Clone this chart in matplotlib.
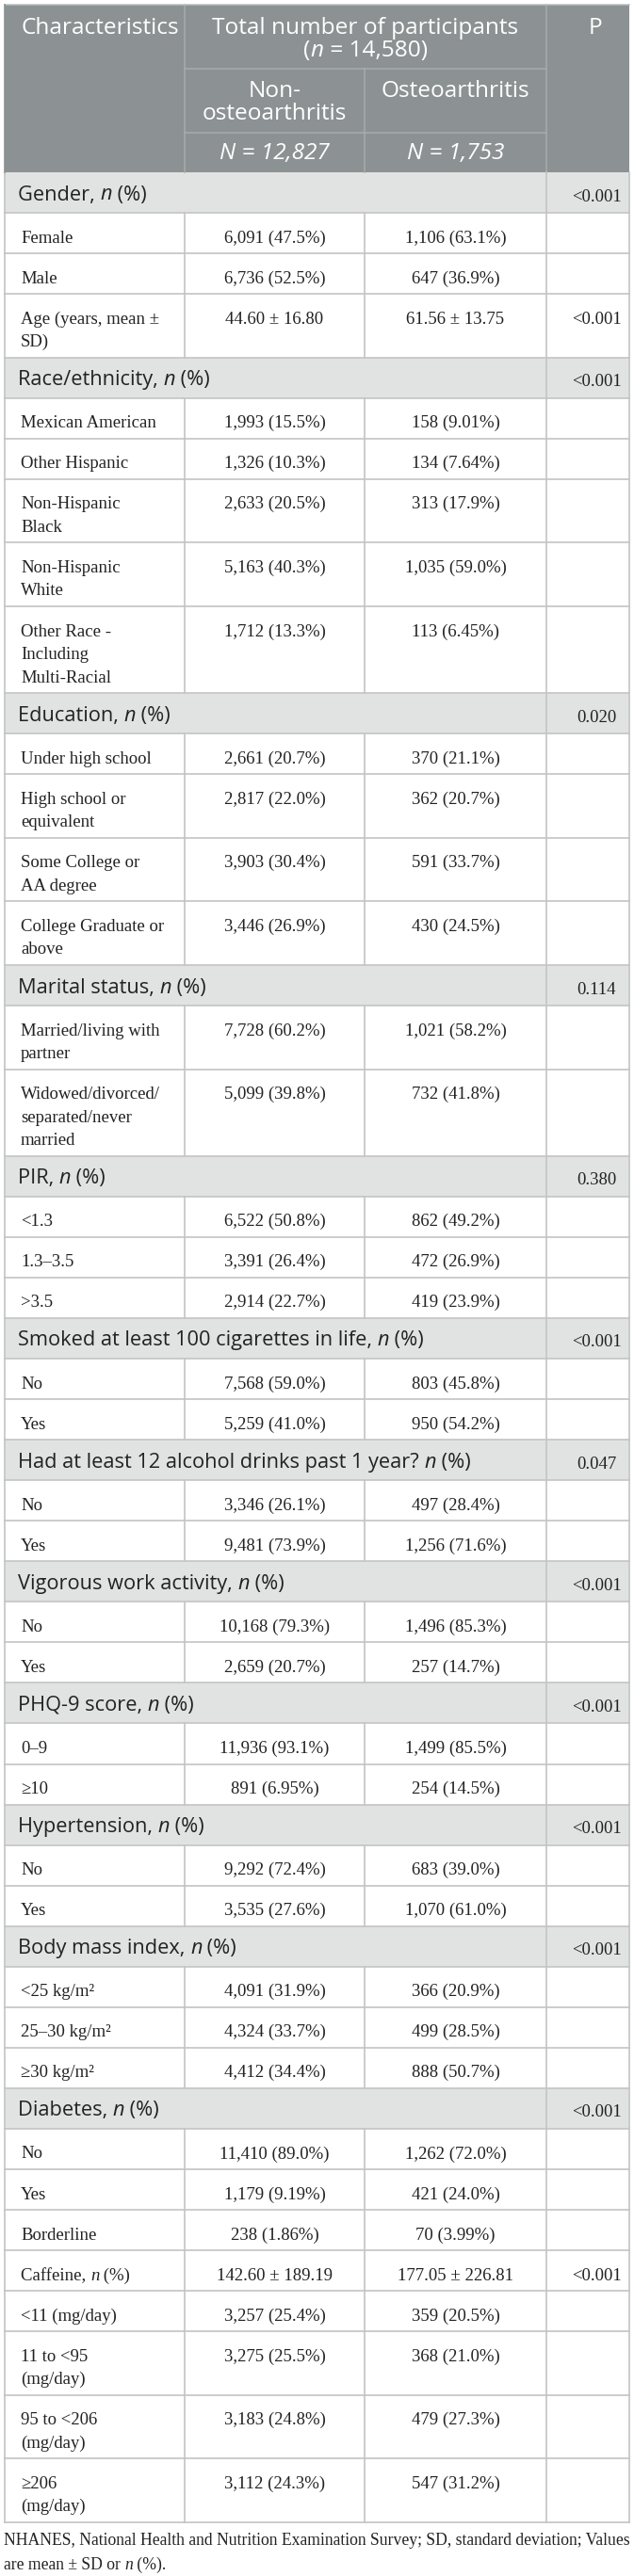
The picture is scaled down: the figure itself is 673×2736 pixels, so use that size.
import matplotlib
matplotlib.use("Agg")
import matplotlib.pyplot as plt
from matplotlib.font_manager import FontProperties
from matplotlib.patches import Rectangle

# ---- table content -------------------------------------------------------
# "_" toggles italic (used for the statistical n)
header_groups = ["Total number of participants", "(_n_ = 14,580)"]
group_names = ["Non-\nosteoarthritis", "Osteoarthritis"]
group_sizes = ["N = 12,827", "N = 1,753"]

row_labels = [
    "Gender, _n_ (%)", "Female", "Male", "Age (years, mean ±\nSD)",
    "Race/ethnicity, _n_ (%)", "Mexican American", "Other Hispanic",
    "Non-Hispanic\nBlack", "Non-Hispanic\nWhite", "Other Race -\nIncluding\nMulti-Racial",
    "Education, _n_ (%)", "Under high school", "High school or\nequivalent",
    "Some College or\nAA degree", "College Graduate or\nabove",
    "Marital status, _n_ (%)", "Married/living with\npartner",
    "Widowed/divorced/\nseparated/never\nmarried",
    "PIR, _n_ (%)", "<1.3", "1.3–3.5", ">3.5",
    "Smoked at least 100 cigarettes in life, _n_ (%)", "No", "Yes",
    "Had at least 12 alcohol drinks past 1 year? _n_ (%)", "No", "Yes",
    "Vigorous work activity, _n_ (%)", "No", "Yes",
    "PHQ-9 score, _n_ (%)", "0–9", "≥10",
    "Hypertension, _n_ (%)", "No", "Yes",
    "Body mass index, _n_ (%)", "<25 kg/m²", "25–30 kg/m²", "≥30 kg/m²",
    "Diabetes, _n_ (%)", "No", "Yes", "Borderline",
    "Caffeine, _n_ (%)", "<11 (mg/day)", "11 to <95\n(mg/day)",
    "95 to <206\n(mg/day)", "≥206\n(mg/day)",
]
is_section = [
    1, 0, 0, 0,
    1, 0, 0, 0, 0, 0,
    1, 0, 0, 0, 0,
    1, 0, 0,
    1, 0, 0, 0,
    1, 0, 0,
    1, 0, 0,
    1, 0, 0,
    1, 0, 0,
    1, 0, 0,
    1, 0, 0, 0,
    1, 0, 0, 0,
    0, 0, 0, 0, 0,
]
non_oa = [
    "", "6,091 (47.5%)", "6,736 (52.5%)", "44.60 ± 16.80",
    "", "1,993 (15.5%)", "1,326 (10.3%)", "2,633 (20.5%)", "5,163 (40.3%)", "1,712 (13.3%)",
    "", "2,661 (20.7%)", "2,817 (22.0%)", "3,903 (30.4%)", "3,446 (26.9%)",
    "", "7,728 (60.2%)", "5,099 (39.8%)",
    "", "6,522 (50.8%)", "3,391 (26.4%)", "2,914 (22.7%)",
    "", "7,568 (59.0%)", "5,259 (41.0%)",
    "", "3,346 (26.1%)", "9,481 (73.9%)",
    "", "10,168 (79.3%)", "2,659 (20.7%)",
    "", "11,936 (93.1%)", "891 (6.95%)",
    "", "9,292 (72.4%)", "3,535 (27.6%)",
    "", "4,091 (31.9%)", "4,324 (33.7%)", "4,412 (34.4%)",
    "", "11,410 (89.0%)", "1,179 (9.19%)", "238 (1.86%)",
    "142.60 ± 189.19", "3,257 (25.4%)", "3,275 (25.5%)", "3,183 (24.8%)", "3,112 (24.3%)",
]
oa = [
    "", "1,106 (63.1%)", "647 (36.9%)", "61.56 ± 13.75",
    "", "158 (9.01%)", "134 (7.64%)", "313 (17.9%)", "1,035 (59.0%)", "113 (6.45%)",
    "", "370 (21.1%)", "362 (20.7%)", "591 (33.7%)", "430 (24.5%)",
    "", "1,021 (58.2%)", "732 (41.8%)",
    "", "862 (49.2%)", "472 (26.9%)", "419 (23.9%)",
    "", "803 (45.8%)", "950 (54.2%)",
    "", "497 (28.4%)", "1,256 (71.6%)",
    "", "1,496 (85.3%)", "257 (14.7%)",
    "", "1,499 (85.5%)", "254 (14.5%)",
    "", "683 (39.0%)", "1,070 (61.0%)",
    "", "366 (20.9%)", "499 (28.5%)", "888 (50.7%)",
    "", "1,262 (72.0%)", "421 (24.0%)", "70 (3.99%)",
    "177.05 ± 226.81", "359 (20.5%)", "368 (21.0%)", "479 (27.3%)", "547 (31.2%)",
]
p_values = [
    "<0.001", "", "", "<0.001",
    "<0.001", "", "", "", "", "",
    "0.020", "", "", "", "",
    "0.114", "", "",
    "0.380", "", "", "",
    "<0.001", "", "",
    "0.047", "", "",
    "<0.001", "", "",
    "<0.001", "", "",
    "<0.001", "", "",
    "<0.001", "", "", "",
    "<0.001", "", "", "",
    "<0.001", "", "", "", "",
]
footnote = ["NHANES, National Health and Nutrition Examination Survey; SD, standard deviation; Values",
            "are mean ± SD or _n_ (%)."]

# ---- layout (pixels) -----------------------------------------------------
W, H = 673, 2736
X0, X1, X2, X3, X4 = 5, 196, 387, 580, 668
HEAD_TOP, HEAD_BOT = 5, 183
BODY_BOT = 2679
LINE = 24.5

HEAD_BG = "#8c9293"
HEAD_LINE = "#a7acad"
SEC_BG = "#e1e3e3"
GRID = "#c4c4c4"
INK = "#222222"

SANS = "Open Sans"
SERIF = "Liberation Serif"

fig = plt.figure(figsize=(W / 100, H / 100), dpi=100)
ax = fig.add_axes([0, 0, 1, 1])
ax.set_xlim(0, W)
ax.set_ylim(H, 0)
ax.axis("off")
renderer = fig.canvas.get_renderer()


def font(family, px, style="normal"):
    return FontProperties(family=family, size=px * 0.72, style=style)


def advance(s, fp):
    w1 = renderer.get_text_width_height_descent("|" + s + "|", fp, ismath=False)[0]
    w0 = renderer.get_text_width_height_descent("||", fp, ismath=False)[0]
    return w1 - w0


def split_runs(s, family, px, all_italic=False):
    runs = []
    for i, p in enumerate(s.split("_")):
        if p:
            ital = (i % 2 == 1) or all_italic
            runs.append((p, font(family, px, "italic" if ital else "normal")))
    return runs


def rich_width(s, family, px, all_italic=False):
    return sum(advance(p, f) for p, f in split_runs(s, family, px, all_italic))


def fit(s, family, target):
    # font size (px) giving the width measured on the reference
    return 20 * target / rich_width(s, family, 20)


def rich(x, y, s, family, px, color=INK, ha="left", all_italic=False):
    runs = split_runs(s, family, px, all_italic)
    total = sum(advance(p, f) for p, f in runs)
    cx = x - total / 2 if ha == "center" else x
    for p, f in runs:
        ax.text(cx, y, p, fontproperties=f, color=color, ha="left", va="baseline")
        cx += advance(p, f)


HEAD_PX = fit(header_groups[0], SANS, 324)
SEC_PX = fit(row_labels[22], SANS, 430)
BODY_PX = (fit("Mexican American", SERIF, 146) + fit("6,091 (47.5%)", SERIF, 106)) / 2
FOOT_PX = fit(footnote[0], SERIF, 664)

# ---- header --------------------------------------------------------------
ax.add_patch(Rectangle((X0, HEAD_TOP), X4 - X0, HEAD_BOT - HEAD_TOP, color=HEAD_BG, lw=0))
for x, y0 in [(X1, HEAD_TOP), (X3, HEAD_TOP), (X2, 73)]:
    ax.plot([x, x], [y0, HEAD_BOT], color=HEAD_LINE, lw=1.1)
for y in [73, 141]:
    ax.plot([X1, X3], [y, y], color=HEAD_LINE, lw=1.1)
ax.plot([X0, X4], [HEAD_TOP, HEAD_TOP], color="#b9bebe", lw=1.1)

rich(22, 36, "Characteristics", SANS, HEAD_PX, color="white")
rich((X1 + X3) / 2, 36, header_groups[0], SANS, HEAD_PX, color="white", ha="center")
rich((X1 + X3) / 2, 60, header_groups[1], SANS, HEAD_PX, color="white", ha="center")
rich(632, 36, "P", SANS, HEAD_PX, color="white", ha="center")
for cx, name, size in zip([(X1 + X2) / 2, (X2 + X3) / 2], group_names, group_sizes):
    for k, ln in enumerate(name.split("\n")):
        rich(cx, 103 + k * 24, ln, SANS, HEAD_PX, color="white", ha="center")
    rich(cx, 169, size, SANS, HEAD_PX, color="white", ha="center", all_italic=True)

# ---- body rows -----------------------------------------------------------
n_lines = [lab.count("\n") + 1 for lab in row_labels]
raw_h = [43 + (n - 1) * LINE for n in n_lines]
scale = (BODY_BOT - HEAD_BOT) / sum(raw_h)
heights = [h * scale for h in raw_h]

top = HEAD_BOT
for lab, sec, a, b, p, h in zip(row_labels, is_section, non_oa, oa, p_values, heights):
    bot = top + h
    if sec:
        ax.add_patch(Rectangle((X0, top), X4 - X0, h, color=SEC_BG, lw=0))
        rich(19, top + 29.5, lab, SANS, SEC_PX)
        rich(633, top + 30.5, p, SERIF, BODY_PX, ha="center")
    else:
        for k, ln in enumerate(lab.split("\n")):
            rich(22, top + 31.5 + k * LINE, ln, SERIF, BODY_PX)
        rich((X1 + X2) / 2, top + 31.5, a, SERIF, BODY_PX, ha="center")
        rich((X2 + X3) / 2, top + 31.5, b, SERIF, BODY_PX, ha="center")
        if p:
            rich(633, top + 31.5, p, SERIF, BODY_PX, ha="center")
        for x in (X1, X2):
            ax.plot([x, x], [top, bot], color=GRID, lw=1.2)
    ax.plot([X0, X4], [bot, bot], color=GRID, lw=1.2)
    top = bot

for x in (X0, X3, X4):
    ax.plot([x, x], [HEAD_BOT, BODY_BOT], color=GRID, lw=1.2)
ax.plot([X0, X0], [HEAD_TOP, HEAD_BOT], color=HEAD_BG, lw=1.2)

# ---- footnote ------------------------------------------------------------
rich(4, 2703, footnote[0], SERIF, FOOT_PX)
rich(4, 2729, footnote[1], SERIF, FOOT_PX)

fig.savefig("out.png", dpi=100, facecolor="white")
